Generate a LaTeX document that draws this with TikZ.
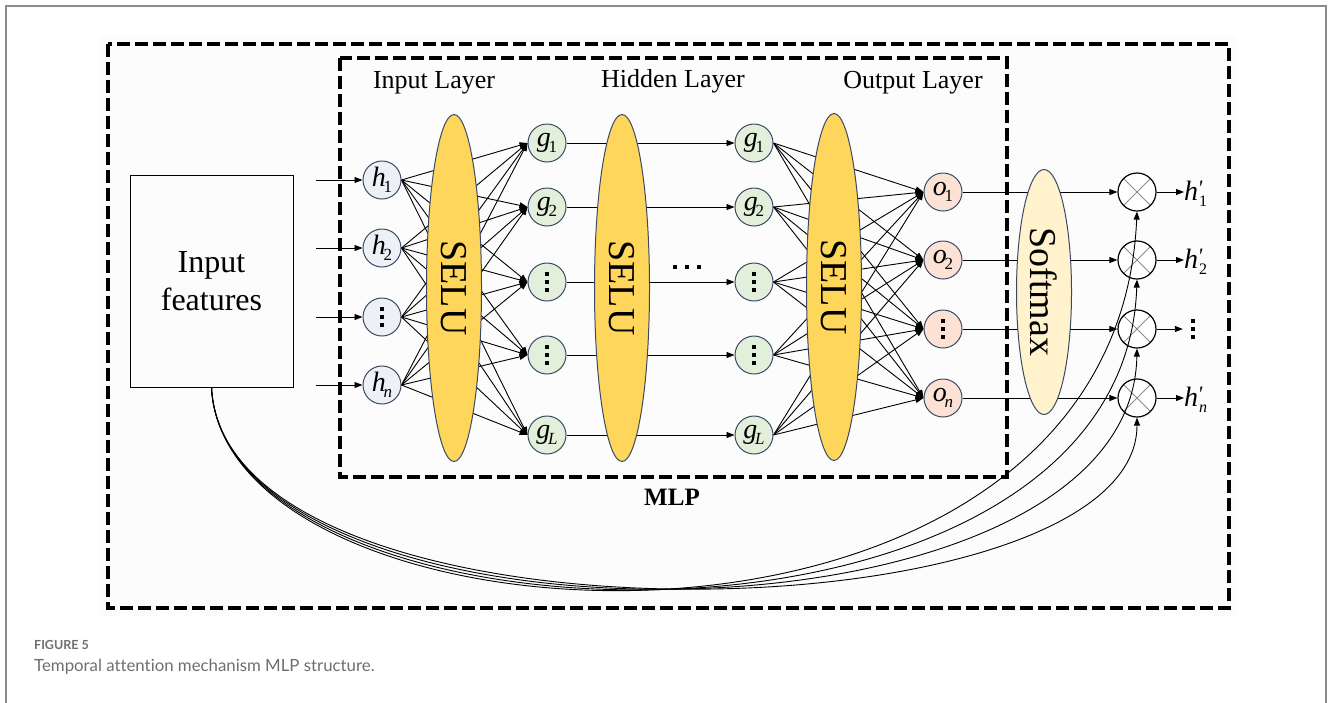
\documentclass[tikz,border=0pt]{standalone}
\usepackage{fontspec}
\setmainfont{Liberation Serif}
\newfontfamily\capfont[Ligatures=NoCommon]{Lato}
\usetikzlibrary{shapes.geometric,arrows.meta}
\pgfdeclarelayer{bottom}
\pgfdeclarelayer{background}
\pgfsetlayers{bottom,background,main}

\definecolor{selucol}{HTML}{FFD65C}
\definecolor{softcol}{HTML}{FFF2CC}
\definecolor{hcol}{HTML}{EDF0F5}
\definecolor{gcol}{HTML}{E2EFDA}
\definecolor{ocol}{HTML}{FBE2D5}
\definecolor{edgecol}{HTML}{3B4A63}
\definecolor{capgray}{HTML}{6E6E6E}
\definecolor{framegray}{HTML}{8C8C8C}

\newcommand{\nlab}[2]{{\itshape #1}\kern-0.08em\raisebox{-0.45ex}{\fontsize{17}{17}\selectfont #2}}
\newcommand{\outlab}[1]{{\itshape h}\kern-0.02em{\fontsize{22}{22}\selectfont\itshape\raisebox{0.5ex}{\textquotesingle}}\kern-0.12em\raisebox{-0.45ex}{\fontsize{16}{16}\selectfont #1}}

\tikzset{
  conn/.style={line width=0.9pt, -{Triangle[length=8pt,width=6pt]}},
  neuron/.style={circle, draw=edgecol, line width=1pt, minimum size=38pt, inner sep=0pt,
    font=\fontsize{28}{28}\selectfont},
  selu/.style={ellipse, rotate=-90, draw=edgecol, line width=1pt, fill=selucol,
    minimum width=347pt, minimum height=55pt, inner sep=0pt, font=\fontsize{38}{38}\selectfont},
  softbox/.style={ellipse, rotate=-90, draw=edgecol, line width=1pt, fill=softcol,
    minimum width=245pt, minimum height=55pt, inner sep=0pt, font=\fontsize{38}{38}\selectfont},
  mult/.style={circle, draw=black, line width=1.2pt, minimum size=38pt, inner sep=0pt, fill=white,
    path picture={\draw[black!45, line width=0.8pt]
      (path picture bounding box.north west) -- (path picture bounding box.south east)
      (path picture bounding box.north east) -- (path picture bounding box.south west);}},
  vdotspic/.style={path picture={\foreach \dy in {-8,0,8}
      \fill[black] ([shift={(-2,\dy-2)}]path picture bounding box.center) rectangle ++(4,4);}},
  hdotspic/.style={path picture={\foreach \dx in {-12,0,12}
      \fill[black] ([shift={(\dx-2,-2)}]path picture bounding box.center) rectangle ++(4,4);}},
  dashbox/.style={draw=black, line width=3.5pt, dash pattern=on 13pt off 5pt},
  layerlab/.style={font=\fontsize{26}{26}\selectfont},
  outl/.style={anchor=west, inner sep=0pt, font=\fontsize{28}{28}\selectfont},
}

\begin{document}
\begin{tikzpicture}[x=1pt, y=-1pt]
\useasboundingbox (0,0) rectangle (1332,702);
% page frame and picture background
\begin{pgfonlayer}{bottom}
\fill[black!1] (100,36) rectangle (1236,616);
\draw[framegray, line width=1.5pt] (6,710) -- (6,6) -- (1326,6) -- (1326,710);
\end{pgfonlayer}

% dashed boxes
\draw[dashbox] (108,44) rectangle (1229,608);
\draw[dashbox] (340,58) rectangle (1007,477);

% labels
\node[layerlab] (labin) at (434,83) {Input Layer};
\node[layerlab] (labhid) at (673,81) {Hidden Layer};
\node[layerlab] (labout) at (913,83) {Output Layer};
\node[font=\fontsize{25}{25}\selectfont\bfseries] (mlp) at (672,497) {MLP};

% input features
\node[draw=black, line width=1pt, minimum width=163pt, minimum height=212pt, align=center,
  font=\fontsize{32}{38}\selectfont] (feat) at (211.5,281) {Input\\features};

% input neurons
\node[neuron, fill=hcol] (h1) at (382,180) {\nlab{h}{1}};
\node[neuron, fill=hcol] (h2) at (382,248) {\nlab{h}{2}};
\node[neuron, fill=hcol, vdotspic] (h3) at (382,317) {};
\node[neuron, fill=hcol] (h4) at (382,385) {\nlab{h}{\itshape n}};
\foreach \i/\yy in {1/180,2/248,3/317,4/385} \coordinate (in\i) at (316,\yy);

% SELU ellipses
\node[selu] (s1) at (454,288) {SELU};
\node[selu] (s2) at (622,288) {SELU};
\node[selu] (s3) at (834,287) {SELU};

% hidden neurons
\node[neuron, fill=gcol] (ga1) at (547,143) {\nlab{g}{1}};
\node[neuron, fill=gcol] (ga2) at (547,207) {\nlab{g}{2}};
\node[neuron, fill=gcol, vdotspic] (ga3) at (547,282) {};
\node[neuron, fill=gcol, vdotspic] (ga4) at (547,355) {};
\node[neuron, fill=gcol] (ga5) at (547,435) {\nlab{g}{\itshape L}};

\node[neuron, fill=gcol] (gb1) at (754,143) {\nlab{g}{1}};
\node[neuron, fill=gcol] (gb2) at (754,207) {\nlab{g}{2}};
\node[neuron, fill=gcol, vdotspic] (gb3) at (754,282) {};
\node[neuron, fill=gcol, vdotspic] (gb4) at (754,355) {};
\node[neuron, fill=gcol] (gb5) at (754,435) {\nlab{g}{\itshape L}};

\node[minimum width=40pt, minimum height=8pt, inner sep=0pt, hdotspic] (hd) at (687,267) {};

% output neurons
\node[neuron, fill=ocol] (o1) at (943,192) {\nlab{o}{1}};
\node[neuron, fill=ocol] (o2) at (943,260) {\nlab{o}{2}};
\node[neuron, fill=ocol, vdotspic] (o3) at (943,329) {};
\node[neuron, fill=ocol] (o4) at (943,398) {\nlab{o}{\itshape n}};

% softmax
\node[softbox] (soft) at (1044,292) {Softmax};

% multipliers
\node[mult] (m1) at (1137,192) {};
\node[mult] (m2) at (1137,260) {};
\node[mult] (m3) at (1137,329) {};
\node[mult] (m4) at (1137,398) {};

% outputs
\node[outl] (y1) at (1184,194) {\outlab{1}};
\node[outl] (y2) at (1184,262) {\outlab{2}};
\node[minimum width=20pt, minimum height=26pt, inner sep=0pt, vdotspic] (y3) at (1193,329) {};
\node[outl] (y4) at (1184,400) {\outlab{\itshape n}};

\begin{pgfonlayer}{background}
  \foreach \i in {1,...,4} \draw[conn] (in\i) -- (h\i.west);
  \foreach \i in {1,...,4} \foreach \j in {1,...,5} \draw[conn] (h\i.east) -- (ga\j.west);
  \foreach \i in {1,...,5} \draw[conn] (ga\i.east) -- (gb\i.west);
  \foreach \i in {1,...,5} \foreach \j in {1,...,4} \draw[conn] (gb\i.east) -- (o\j.west);
  \foreach \i in {1,...,4} \draw[conn] (o\i.east) -- (m\i.west);
\end{pgfonlayer}

\foreach \i in {1,...,4} \draw[conn] (m\i.east) -- (m\i.east -| y\i.west);

% skip curves from input features
\draw[conn] (feat.south) .. controls (225,660) and (1115,708) .. (m1.south);
\draw[conn] (feat.south) .. controls (225,660) and (1123,686) .. (m2.south);
\draw[conn] (feat.south) .. controls (225,660) and (1131,663) .. (m3.south);
\draw[conn] (feat.south) .. controls (225,660) and (1137,640) .. (m4.south);

% caption
\node[anchor=west, inner sep=0pt, text=capgray, font=\capfont\bfseries\fontsize{12.5}{14}\selectfont] (figlab) at (34,645) {FIGURE 5};
\node[anchor=west, inner sep=0pt, text=capgray, font=\capfont\fontsize{16.8}{18}\selectfont] (cap) at (34,667) {Temporal attention mechanism MLP structure.};
\end{tikzpicture}
\end{document}
